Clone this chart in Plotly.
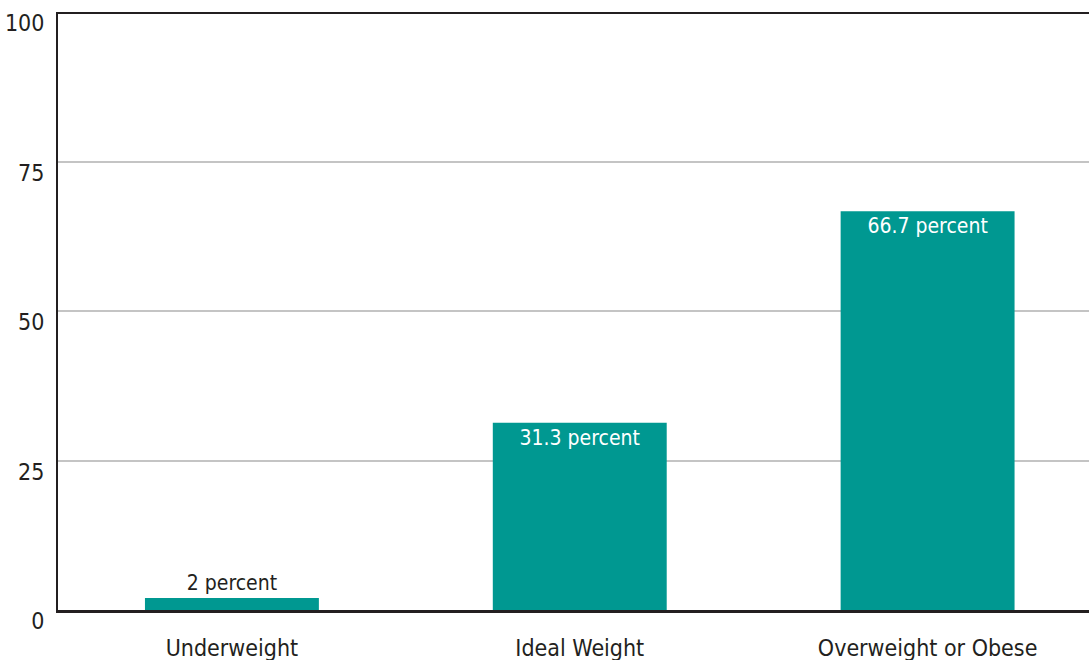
import plotly.graph_objects as go

categories = ["Underweight", "Ideal Weight", "Overweight or Obese"]
values = [2, 31.3, 66.7]
y_ticks = [0, 25, 50, 75, 100]
labels = [f"{v:g} percent" for v in values]

FONT = "Liberation Sans Narrow, DejaVu Sans Condensed, Arial Narrow, sans-serif"
DARK = "#231f20"
TEAL = "#009891"

fig = go.Figure()
fig.add_trace(go.Bar(
    x=categories, y=values, width=0.5,
    marker=dict(color=TEAL, line=dict(width=0)),
    text=labels,
    textposition=["outside", "inside", "inside"],
    insidetextanchor="end",
    insidetextfont=dict(color="white", size=21, family=FONT),
    outsidetextfont=dict(color=DARK, size=21, family=FONT),
    textangle=0,
    constraintext="none",
    cliponaxis=False,
))

fig.add_shape(type="line", xref="paper", yref="y", x0=0, x1=1, y0=100, y1=100,
              line=dict(color=DARK, width=4))

fig.update_layout(
    width=1089, height=660,
    margin=dict(l=58, r=0, t=12, b=50),
    paper_bgcolor="white", plot_bgcolor="white",
    showlegend=False,
    font=dict(family=FONT, color=DARK, size=23),
    bargap=0.5,
)
fig.update_xaxes(
    range=[-0.5, 2.464], showgrid=False, zeroline=False,
    showline=True, linecolor=DARK, linewidth=3,
    ticks="", ticklabelstandoff=15, automargin=False,
    tickfont=dict(size=23, family=FONT, color=DARK),
)
fig.update_yaxes(
    range=[0, 100], tickvals=y_ticks, ticktext=[str(t) for t in y_ticks],
    showgrid=True, gridcolor="#c4c4c4", gridwidth=2,
    zeroline=False, showline=True, linecolor=DARK, linewidth=2,
    ticks="", ticklabelshift=11, ticklabelstandoff=7,
    ticklabeloverflow="allow", automargin=False,
    tickfont=dict(size=23, family=FONT, color=DARK),
)

fig.write_html(
    "out.html",
    config={"displayModeBar": False},
    post_script="document.body.style.margin='0';document.body.style.overflow='hidden';",
)
